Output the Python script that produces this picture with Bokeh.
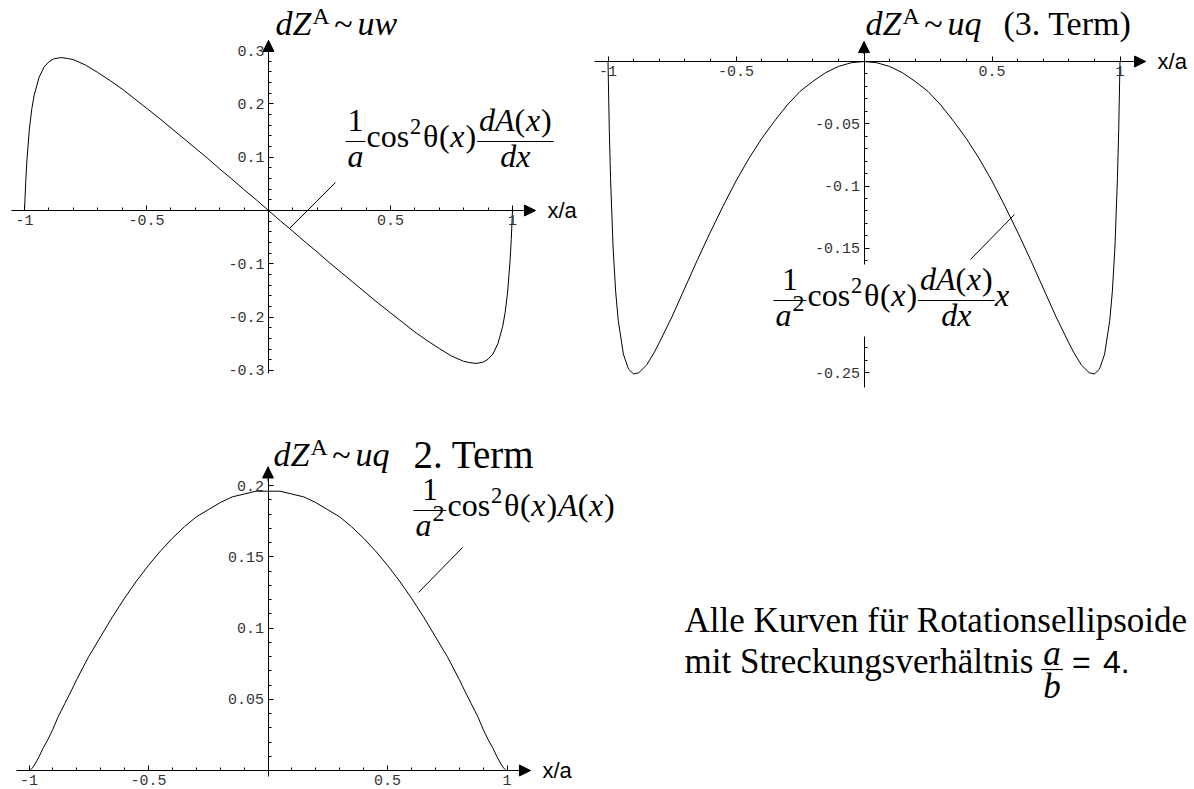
from bokeh.plotting import figure
from bokeh.models import (Range1d, LinearAxis, FixedTicker, CustomJSTickFormatter,
                          Arrow, NormalHead, Label, BoxAnnotation)
from bokeh.embed import file_html
from bokeh.resources import INLINE

W, H = 1194, 789

# abscissa x/a, shared by all three curves
xa = [-1.0, -0.995, -0.99, -0.98, -0.97, -0.96, -0.94, -0.92, -0.9, -0.88, -0.85, -0.82, -0.8,
      -0.75, -0.7, -0.65, -0.6, -0.55, -0.5, -0.45, -0.4, -0.35, -0.3, -0.25, -0.2, -0.15, -0.1, -0.05,
      0.0,
      0.05, 0.1, 0.15, 0.2, 0.25, 0.3, 0.35, 0.4, 0.45, 0.5, 0.55, 0.6, 0.65, 0.7, 0.75,
      0.8, 0.82, 0.85, 0.88, 0.9, 0.92, 0.94, 0.96, 0.97, 0.98, 0.99, 0.995, 1.0]

# dZ^A ~ uw :  (1/a) cos^2(theta) dA/dx
uw = [0.0, 0.054, 0.095, 0.153, 0.191, 0.217, 0.250, 0.269, 0.279, 0.2845, 0.287, 0.285, 0.283,
      0.273, 0.259, 0.244, 0.228, 0.210, 0.192, 0.174, 0.155, 0.136, 0.117, 0.098, 0.078, 0.059, 0.039, 0.020,
      0.0,
      -0.020, -0.039, -0.059, -0.078, -0.098, -0.117, -0.136, -0.155, -0.174, -0.192, -0.210, -0.228, -0.244, -0.259, -0.273,
      -0.283, -0.285, -0.287, -0.2845, -0.279, -0.269, -0.250, -0.217, -0.191, -0.153, -0.095, -0.054, 0.0]

# dZ^A ~ uq, 3. Term :  (1/a^2) cos^2(theta) dA/dx x
uq3 = [0.0, -0.054, -0.094, -0.150, -0.185, -0.208, -0.235, -0.247, -0.251, -0.250, -0.244, -0.234, -0.226,
       -0.205, -0.182, -0.159, -0.137, -0.116, -0.096, -0.078, -0.062, -0.048, -0.035, -0.024, -0.016, -0.009, -0.004, -0.001,
       0.0,
       -0.001, -0.004, -0.009, -0.016, -0.024, -0.035, -0.048, -0.062, -0.078, -0.096, -0.116, -0.137, -0.159, -0.182, -0.205,
       -0.226, -0.234, -0.244, -0.250, -0.251, -0.247, -0.235, -0.208, -0.185, -0.150, -0.094, -0.054, 0.0]

# dZ^A ~ uq, 2. Term :  (1/a^2) cos^2(theta) A(x)
uq2 = [0.0, 0.0002, 0.001, 0.003, 0.006, 0.009, 0.016, 0.022, 0.029, 0.037, 0.047, 0.057, 0.064,
       0.080, 0.094, 0.108, 0.121, 0.133, 0.144, 0.154, 0.163, 0.171, 0.178, 0.183, 0.188, 0.192, 0.194, 0.196,
       0.196,
       0.196, 0.194, 0.192, 0.188, 0.183, 0.178, 0.171, 0.163, 0.154, 0.144, 0.133, 0.121, 0.108, 0.094, 0.080,
       0.064, 0.057, 0.047, 0.037, 0.029, 0.022, 0.016, 0.009, 0.006, 0.003, 0.001, 0.0002, 0.0]

# tick positions
x_major = [-1, -0.5, 0.5, 1]
x_minor = [round(0.1 * i, 1) for i in range(-10, 11) if i % 5 != 0]
uw_major = [-0.3, -0.2, -0.1, 0.1, 0.2, 0.3]
uw_minor = [round(0.02 * i, 2) for i in range(-15, 16) if i % 5 != 0]
uq3_major = [-0.25, -0.2, -0.15, -0.1, -0.05]
uq3_minor = [round(-0.01 * i, 2) for i in range(1, 26) if i % 5 != 0]
uq2_major = [0.05, 0.1, 0.15, 0.2]
uq2_minor = [round(0.01 * i, 2) for i in range(1, 21) if i % 5 != 0]

# panel placement: origin (px), pixels per unit in x and y
PANELS = {
    "uw":  dict(ox=268.0, oy=210.0, sx=244.0, sy=533.0),
    "uq3": dict(ox=863.5, oy=61.0, sx=256.0, sy=1245.0),
    "uq2": dict(ox=267.5, oy=770.0, sx=239.0, sy=1425.0),
}

p = figure(width=W, height=H, x_range=Range1d(0, W), y_range=Range1d(H, 0),
           x_axis_type=None, y_axis_type=None, toolbar_location=None,
           output_backend="svg", min_border=0, outline_line_color=None,
           background_fill_color="white", border_fill_color="white")

p.extra_x_ranges = {k: Range1d(-g["ox"] / g["sx"], (W - g["ox"]) / g["sx"]) for k, g in PANELS.items()}
p.extra_y_ranges = {k: Range1d((g["oy"] - H) / g["sy"], g["oy"] / g["sy"]) for k, g in PANELS.items()}

fmt = CustomJSTickFormatter(code="return tick.toString();")


def make_axes(name, xb, yb, yt, ym):
    g = PANELS[name]
    common = dict(x_range_name=name, y_range_name=name, fixed_location=0,
                  axis_line_color="black", axis_line_width=1,
                  major_tick_in=5, major_tick_out=0, minor_tick_in=3, minor_tick_out=0,
                  major_tick_line_color="black", minor_tick_line_color="black",
                  major_label_text_font="Liberation Mono", major_label_text_font_size="15px",
                  major_label_text_color="#333", major_label_standoff=4, formatter=fmt)
    p.add_layout(LinearAxis(bounds=xb, ticker=FixedTicker(ticks=x_major, minor_ticks=x_minor), **common), "below")
    p.add_layout(LinearAxis(bounds=yb, ticker=FixedTicker(ticks=yt, minor_ticks=ym), **common), "left")
    head = dict(size=11, fill_color="black", line_color="black", line_width=1)
    p.add_layout(Arrow(end=NormalHead(**head), x_start=xb[1] - 0.02, y_start=0, x_end=xb[1], y_end=0,
                       x_range_name=name, y_range_name=name, line_width=1))
    p.add_layout(Arrow(end=NormalHead(**head), x_start=0, y_start=yb[1] - 0.01, x_end=0, y_end=yb[1],
                       x_range_name=name, y_range_name=name, line_width=1))
    tip = g["ox"] + xb[1] * g["sx"]
    p.add_layout(Label(x=tip + 12, y=g["oy"], text="x/a", text_font="Liberation Sans",
                       text_font_size="22px", text_baseline="middle", text_align="left",
                       text_color="black"))


make_axes("uw", (-1.055, 1.094), (-0.306, 0.319), uw_major, uw_minor)
make_axes("uq3", (-1.054, 1.10), (-0.262, 0.016), uq3_major, uq3_minor)
make_axes("uq2", (-1.052, 1.098), (-0.004, 0.213), uq2_major, uq2_minor)

for name, ys in (("uw", uw), ("uq3", uq3), ("uq2", uq2)):
    p.line(xa, ys, x_range_name=name, y_range_name=name, line_color="black", line_width=1)

# ---- typeset formulas from runs of text ----
SERIF = "Liberation Serif"
ROMAN = {'1': .5, '2': .5, '3': .5, '4': .5, '.': .25, ' ': .25, '(': .333, ')': .333, 'c': .444,
         'o': .5, 's': .389, 'T': .611, 'e': .444, 'r': .333, 'm': .778, '~': .541, '=': .564,
         'A': .722, 'θ': .5, 'i': .278, 't': .278, 'S': .556, 'k': .5, 'u': .5, 'n': .5, 'g': .5,
         'v': .5, 'h': .5, 'ä': .444, 'l': .278}
ITALIC = {'d': .5, 'Z': .556, 'u': .5, 'w': .667, 'q': .5, 'a': .5, 'x': .444, 'A': .611, 'b': .5}
BASE_SHIFT = 0.35   # label anchor sits this far (in em) below the glyph baseline


def adv(s, italic, size):
    t = ITALIC if italic else ROMAN
    return sum(t.get(c, 0.5) for c in s) * size


def put(x, y, s, size, italic=False, font=SERIF):
    p.add_layout(Label(x=x, y=y - BASE_SHIFT * size, text=s, text_font=font,
                       text_font_size=f"{size:.1f}px",
                       text_font_style="italic" if italic else "normal",
                       text_align="left", text_baseline="alphabetic", text_color="black"))


def R(s, sc=1.0, rise=0.0, gap=0.0):
    return (s, False, sc, rise, gap)


def I(s, sc=1.0, rise=0.0, gap=0.0):
    return (s, True, sc, rise, gap)


def seq(x, base, items, size):
    for s, it, sc, rise, gap in items:
        x += gap * size
        put(x, base - rise * size, s, size * sc, it)
        x += adv(s, it, size * sc)
    return x


def seq_width(items, size):
    return sum(g * size + adv(s, it, size * sc) for s, it, sc, r, g in items)


def hline(x0, x1, y, w=1.2):
    p.add_layout(Arrow(start=None, end=None, x_start=x0, y_start=y, x_end=x1, y_end=y,
                       line_width=w, line_color="black"))


def frac(x, bar, num, den, size, num_drop=10, den_drop=26, pad=0.06):
    wn, wd = seq_width(num, size), seq_width(den, size)
    w = max(wn, wd) + 2 * pad * size
    hline(x, x + w, bar)
    seq(x + (w - wn) / 2, bar - num_drop, num, size)
    seq(x + (w - wd) / 2, bar + den_drop, den, size)
    return x + w


def pointer(x0, y0, x1, y1):
    p.add_layout(Arrow(start=None, end=None, x_start=x0, y_start=y0, x_end=x1, y_end=y1,
                       line_width=1, line_color="black"))


FS = 32      # formulas
TS = 34      # panel headings
COS = [R("cos", gap=0.04), R("2", 0.7, 0.42, 0.02), R("θ", gap=0.06), R("("), I("x", gap=0.02), R(")", gap=0.03)]
DADX_NUM = [I("d"), I("A"), R("("), I("x", gap=0.02), R(")", gap=0.03)]
A2 = [I("a"), R("2", 0.75, 0.45, 0.03)]


def head(x, base, last, size=TS):
    return seq(x, base, [I("dZ"), R("A", 0.7, 0.34, 0.03), R("~", gap=0.14), I(last, gap=0.14)], size)


# upper left panel
head(275, 35, "uw")
B = 147
x = frac(345, B - 6, [R("1")], [I("a")], FS)
x = seq(x, B, COS, FS)
frac(x + 0.03 * FS, B - 6, DADX_NUM, [I("dx")], FS)
pointer(289, 228, 335, 182)

# upper right panel
head(865, 35, "uq")
put(1003, 35, "(3. Term)", TS)
p.add_layout(BoxAnnotation(left=770, right=1010, top=264, bottom=336,
                           fill_color="white", fill_alpha=1.0, line_color=None))
B = 306
x = frac(773, B - 6, [R("1")], A2, FS)
x = seq(x, B, COS, FS)
x = frac(x + 0.03 * FS, B - 6, DADX_NUM, [I("dx")], FS)
seq(x, B, [I("x", gap=0.01)], FS)
pointer(970, 259, 1014, 214)

# lower left panel
head(273, 466, "uq")
put(413, 468, "2. Term", 39)
B = 516
x = frac(413, B - 6, [R("1")], A2, FS)
x = seq(x, B, COS, FS)
seq(x, B, [I("A", gap=0.03), R("("), I("x", gap=0.02), R(")", gap=0.03)], FS)
pointer(462, 547, 418, 592)

# note on the aspect ratio
FT = 35
put(684, 632, "Alle Kurven für Rotationsellipsoide", FT)
put(684, 673, "mit Streckungsverhältnis", FT)
x = 684 + adv("mit Streckungsverhältnis", False, FT) + 0.22 * FT
x = frac(x, 669, [I("a")], [I("b")], FT, num_drop=4, den_drop=29)
put(x + 9, 673, "=", 32, font="Liberation Sans")
put(x + 40, 673, "4.", 32, font="Liberation Sans")

open("out.html", "w").write(file_html(p, INLINE))
